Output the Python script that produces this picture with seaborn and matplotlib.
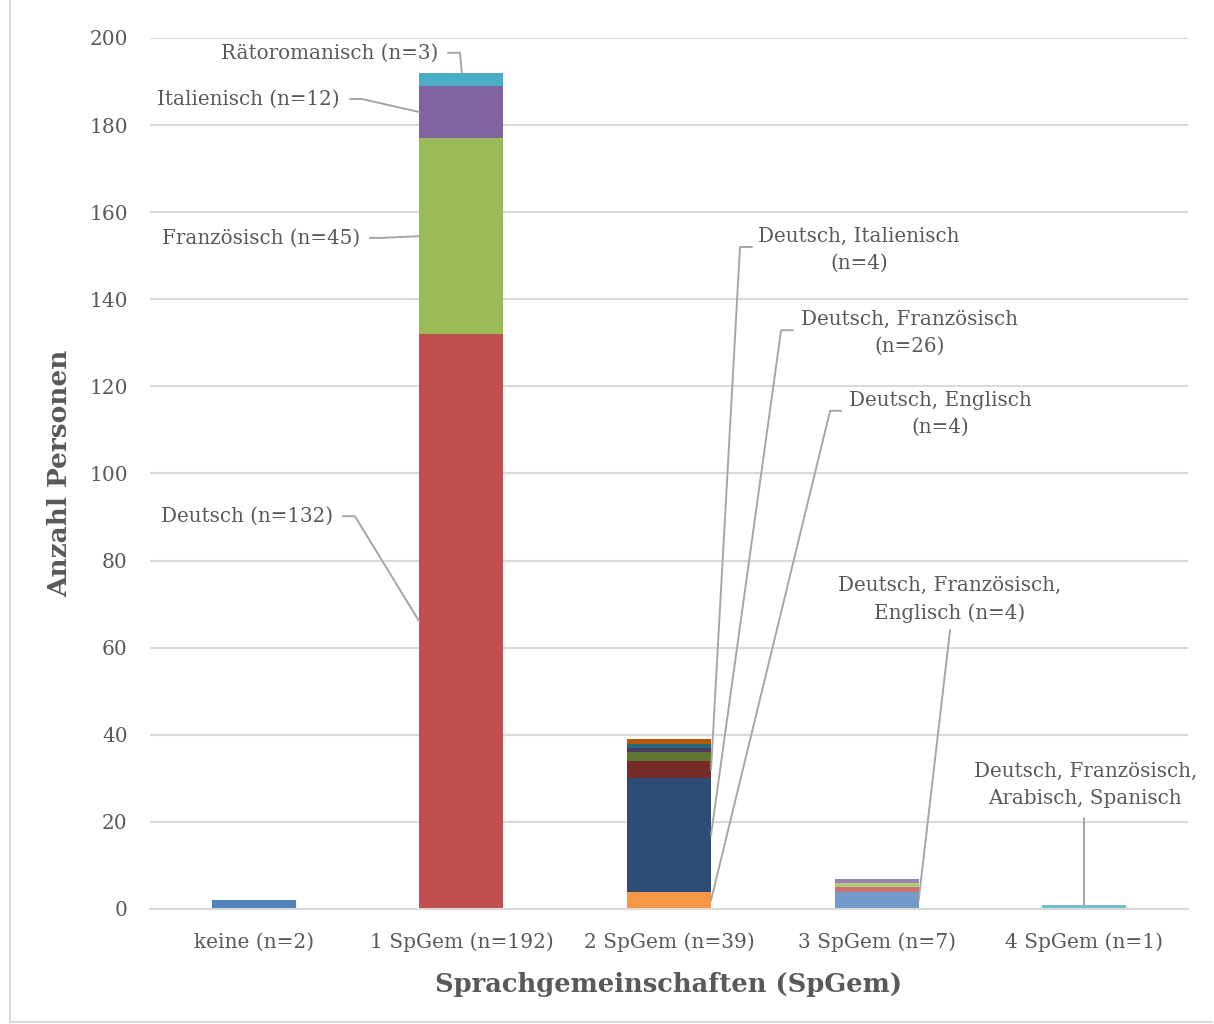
import matplotlib
matplotlib.use("Agg")
import matplotlib.pyplot as plt
from matplotlib.lines import Line2D
import seaborn as sns
import pandas as pd

# Categories on the x axis
categories = ["keine (n=2)", "1 SpGem (n=192)", "2 SpGem (n=39)",
              "3 SpGem (n=7)", "4 SpGem (n=1)"]

# Stacked segments per category, bottom to top
seg_keine = [2]
seg_one = [132, 45, 12, 3]          # Deutsch, Französisch, Italienisch, Rätoromanisch
seg_two = [4, 26, 4, 2, 1, 1, 1]    # D+E, D+F, D+I, further combinations
seg_three = [4, 1, 1, 1]            # D+F+E, further combinations
seg_four = [1]                      # D+F+Arabisch+Spanisch

col_keine = ["#4F81BD"]
col_one = ["#C0504D", "#9BBB59", "#8064A2", "#4BACC6"]
col_two = ["#F79646", "#2C4D75", "#772C2A", "#5F7530", "#4D3B62", "#276A7C", "#B65708"]
col_three = ["#729ACA", "#CD7371", "#AFC97A", "#9983B5"]
col_four = ["#6FBDD1"]

segments = [seg_keine, seg_one, seg_two, seg_three, seg_four]
colors = [col_keine, col_one, col_two, col_three, col_four]

TEXT = "#595959"
GRID = "#D9D9D9"
LEAD = "#A6A6A6"
FONT = "DejaVu Serif"

sns.set_theme(style="white")
plt.rcParams["font.family"] = [FONT]

W, H = 1214, 1024
fig = plt.figure(figsize=(W / 100, H / 100), dpi=100)
ax = fig.add_axes([150 / W, 1 - 909 / H, (1188 - 150) / W, (909 - 38) / H])

rows = []
for cat, segs in zip(categories, segments):
    bottom = 0
    for k, v in enumerate(segs):
        rows.append({"cat": cat, "layer": k, "value": v, "bottom": bottom})
        bottom += v
df = pd.DataFrame(rows)

for cat, cols in zip(categories, colors):
    sub = df[df["cat"] == cat]
    for _, r in sub.iterrows():
        sns.barplot(x=[r["cat"]], y=[r["value"]], order=categories,
                    bottom=r["bottom"], color=cols[int(r["layer"])],
                    saturation=1, width=0.405, ax=ax, linewidth=0)

ax.set_xlim(-0.5, 4.5)
ax.set_ylim(0, 200)
ax.set_yticks(range(0, 201, 20))
ax.grid(axis="y", color=GRID, linewidth=1.5)
ax.set_axisbelow(True)
for s in ["left", "right", "top"]:
    ax.spines[s].set_visible(False)
ax.spines["bottom"].set_color(GRID)
ax.spines["bottom"].set_linewidth(1.5)
ax.tick_params(axis="y", length=0, pad=16, labelsize=14.5, labelcolor=TEXT)
ax.tick_params(axis="x", length=0, pad=17, labelsize=14.5, labelcolor=TEXT)
ax.set_xlabel("Sprachgemeinschaften (SpGem)", fontsize=18.5, fontweight="bold",
              color=TEXT, labelpad=14)
ax.set_ylabel("Anzahl Personen", fontsize=19, fontweight="bold",
              color=TEXT, labelpad=12)

def top_of(ci, k):
    return sum(segments[ci][:k + 1])

def mid_of(ci, k):
    return sum(segments[ci][:k]) + segments[ci][k] / 2

half = 0.2025
lw = 1.4
ts = 14.3
ls = 1.55

def leader(pts):
    xs, ys = zip(*pts)
    ax.plot(xs, ys, color=LEAD, linewidth=lw, clip_on=False, zorder=5)

# Labels for the 1 SpGem bar (left side)
ax.text(0.887, 196.6, "Rätoromanisch (n=3)", ha="right", va="center",
        fontsize=ts, color=TEXT)
leader([(0.935, 196.6), (0.993, 196.6), (1.002, top_of(1, 3))])

ax.text(0.414, 186.0, "Italienisch (n=12)", ha="right", va="center",
        fontsize=ts, color=TEXT)
leader([(0.463, 186.0), (0.520, 186.0), (1 - half, mid_of(1, 2))])

ax.text(0.511, 154.1, "Französisch (n=45)", ha="right", va="center",
        fontsize=ts, color=TEXT)
leader([(0.559, 154.1), (0.617, 154.1), (1 - half, mid_of(1, 1))])

ax.text(0.381, 90.2, "Deutsch (n=132)", ha="right", va="center",
        fontsize=ts, color=TEXT)
leader([(0.429, 90.2), (0.487, 90.2), (1 - half, mid_of(1, 0))])

# Labels for the 2 SpGem bar
ax.text(2.916, 151.3, "Deutsch, Italienisch\n(n=4)", ha="center", va="center",
        fontsize=ts, color=TEXT, linespacing=ls)
leader([(2.400, 152.0), (2.342, 152.0), (2 + half, mid_of(2, 2))])

ax.text(3.157, 132.3, "Deutsch, Französisch\n(n=26)", ha="center", va="center",
        fontsize=ts, color=TEXT, linespacing=ls)
leader([(2.597, 132.9), (2.540, 132.9), (2 + half, mid_of(2, 1))])

ax.text(3.306, 113.7, "Deutsch, Englisch\n(n=4)", ha="center", va="center",
        fontsize=ts, color=TEXT, linespacing=ls)
leader([(2.829, 114.4), (2.776, 114.4), (2 + half, mid_of(2, 0))])

# Label for the 3 SpGem bar
ax.text(3.354, 71.0, "Deutsch, Französisch,\nEnglisch (n=4)", ha="center",
        va="center", fontsize=ts, color=TEXT, linespacing=ls)
leader([(3.354, 64.1), (3 + half, mid_of(3, 0))])

# Label for the 4 SpGem bar
ax.text(4.005, 28.5, "Deutsch, Französisch,\nArabisch, Spanisch", ha="center",
        va="center", fontsize=ts, color=TEXT, linespacing=ls)
leader([(4.0, 20.9), (4.0, top_of(4, 0))])

# Chart frame (left and bottom edges)
fig.lines.append(Line2D([10 / W, 10 / W, 1 - 2 / W], [1, 2 / H, 2 / H],
                        transform=fig.transFigure, color=GRID, linewidth=1.5))

fig.savefig("out.png", dpi=100)
